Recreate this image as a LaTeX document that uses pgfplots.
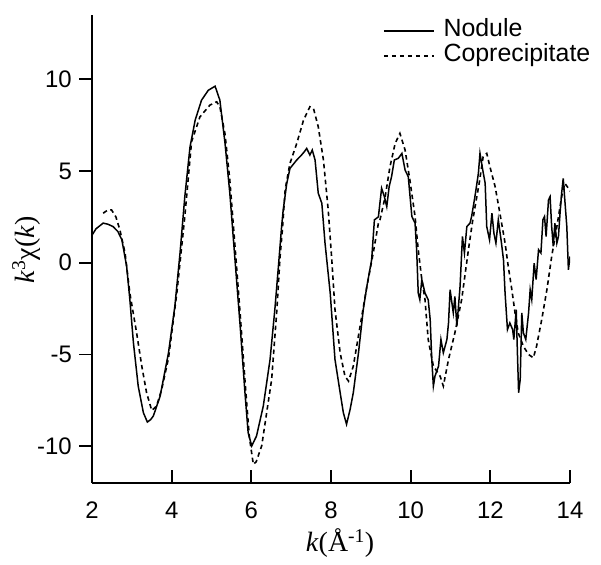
\documentclass[border=0pt]{standalone}
\usepackage{fontspec}
\setmainfont{Liberation Sans}
\newfontfamily\serif{Liberation Serif}
\usepackage{pgfplots}
\pgfplotsset{compat=1.18}
\begin{document}
\begin{tikzpicture}
\useasboundingbox (-92bp,-82bp) rectangle (509bp,483bp);
% tick marks of the axis below (axis box spans 0..478bp x 0..468bp; x 2..14, y -12..13.5)
\foreach \xt in {79.667,159.333,239,318.667,398.333,478}
  \draw[black, line width=1.8bp] (\xt bp,0bp) -- (\xt bp,12.5bp);
\foreach \yt in {36.706,128.471,220.235,312,403.765}
  \draw[black, line width=1.8bp] (0bp,\yt bp) -- (-12.5bp,\yt bp);
\begin{axis}[
  at={(0,0)}, anchor=south west,
  scale only axis, width=478bp, height=468bp,
  xmin=2, xmax=14, ymin=-12, ymax=13.5,
  axis x line*=bottom, axis y line*=left,
  axis line style={line width=1.8bp},
  xtick={2,4,...,14}, ytick={-10,-5,0,5,10},
  major tick length=0pt,
  /pgf/number format/assume math mode=true,
  tick label style={font=\fontsize{24}{28}\selectfont},
  yticklabel style={inner sep=0pt, xshift=-20bp},
  xticklabel style={inner sep=0pt, yshift=-19bp},
  xlabel={\serif\fontsize{28}{32}\selectfont\textit{k}(Å\textsuperscript{-1})},
  xlabel style={at={(axis description cs:0.519,-0.128)}, anchor=center, inner sep=0pt},
  ylabel={\serif\fontsize{28}{32}\selectfont\textit{k}\textsuperscript{3}χ(\textit{k})},
  ylabel style={at={(axis description cs:-0.138,0.498)}, anchor=center, inner sep=0pt},
  legend style={draw=none, fill=none, at={(axis description cs:1.045,0.993)}, anchor=north east,
    font=\fontsize{25}{29}\selectfont, inner sep=0pt, row sep=0bp,
    nodes={inner sep=1bp, text height=17bp, text depth=6bp}},
  legend cell align=left,
  legend image code/.code={\draw[#1] (0bp,0bp) -- (50bp,0bp); \path (58bp,0bp);},
]
\addplot[black, line width=1.5bp] coordinates {
(2.00,1.50) (2.10,1.85) (2.28,2.16) (2.40,2.10) (2.53,1.97) (2.65,1.70) (2.75,1.25)
(2.87,-0.20) (2.95,-2.00) (3.04,-4.36) (3.16,-6.72) (3.29,-8.17) (3.39,-8.68) (3.47,-8.55)
(3.54,-8.35) (3.71,-7.27) (3.92,-4.91) (4.08,-2.37) (4.21,0.53) (4.33,3.60) (4.46,6.30)
(4.59,7.77) (4.75,8.86) (4.92,9.40) (5.09,9.62) (5.21,8.86) (5.34,6.50) (5.46,3.79)
(5.59,0.16) (5.72,-3.46) (5.84,-7.08) (5.92,-9.26) (6.01,-9.98) (6.13,-9.44) (6.30,-7.81)
(6.47,-5.27) (6.59,-2.55) (6.68,-0.20) (6.76,1.97) (6.80,2.88) (6.89,4.33) (6.97,5.14)
(7.14,5.60) (7.26,5.87) (7.33,6.05) (7.39,6.23) (7.47,5.87) (7.53,6.14) (7.60,5.60)
(7.68,3.79) (7.77,3.24) (7.85,1.07) (7.98,-1.65) (8.10,-5.27) (8.23,-7.08) (8.31,-8.17)
(8.39,-8.80) (8.48,-7.99) (8.56,-7.08) (8.69,-4.91) (8.81,-2.55) (8.90,-1.29) (9.02,0.16)
(9.09,2.34) (9.19,2.50) (9.27,4.06) (9.34,3.60) (9.40,3.06) (9.46,4.15) (9.52,4.69)
(9.59,5.60) (9.69,5.69) (9.78,5.96) (9.86,5.05) (9.94,4.69) (10.03,2.52) (10.11,2.16)
(10.15,0.71) (10.19,-1.65) (10.23,-2.01) (10.28,-0.92) (10.36,-1.65) (10.44,-2.01)
(10.49,-3.10) (10.53,-5.27) (10.57,-6.72) (10.61,-6.18) (10.70,-5.63) (10.76,-4.18)
(10.82,-4.91) (10.91,-4.18) (10.95,-3.28) (10.99,-1.47) (11.07,-2.73) (11.11,-1.83)
(11.16,-3.46) (11.24,-1.29) (11.30,1.43) (11.35,0.53) (11.41,1.97) (11.49,2.16)
(11.53,2.52) (11.62,3.70) (11.70,4.87) (11.74,5.96) (11.81,5.05) (11.87,4.33) (11.91,1.97)
(11.98,1.25) (12.04,2.70) (12.09,1.61) (12.14,1.07) (12.20,2.34) (12.28,1.07) (12.33,0.16)
(12.37,-1.65) (12.43,-3.64) (12.49,-3.28) (12.56,-3.64) (12.59,-4.18) (12.65,-2.55)
(12.68,-4.91) (12.71,-7.08) (12.75,-6.36) (12.79,-2.73) (12.83,-3.82) (12.89,-4.18)
(12.96,-2.73) (13.00,-1.47) (13.04,-2.01) (13.10,-0.02) (13.15,-0.92) (13.21,0.71)
(13.27,0.53) (13.32,2.34) (13.36,2.52) (13.40,1.43) (13.46,3.42) (13.50,3.60) (13.54,1.97)
(13.58,0.89) (13.62,2.16) (13.67,1.07) (13.71,1.43) (13.75,2.70) (13.79,3.79) (13.83,4.60)
(13.87,3.42) (13.92,1.97) (13.96,-0.38) (14.00,0.34)
};
\addlegendentry{Nodule}
\addplot[black, line width=1.6bp, dash pattern=on 4.5bp off 3.5bp] coordinates {
(2.28,2.70) (2.38,2.85) (2.49,2.88) (2.60,2.50) (2.70,1.79) (2.83,0.53) (2.95,-1.65)
(3.12,-3.82) (3.25,-5.63) (3.37,-7.08) (3.50,-8.05) (3.62,-7.81) (3.75,-6.90) (3.92,-5.20)
(4.13,-1.65) (4.33,2.52) (4.42,4.69) (4.50,6.60) (4.71,7.95) (4.96,8.59) (5.13,8.77)
(5.21,8.50) (5.34,7.00) (5.46,4.50) (5.59,0.90) (5.72,-2.80) (5.84,-6.40) (5.95,-9.50)
(6.05,-10.98) (6.12,-10.85) (6.26,-9.98) (6.51,-6.36) (6.64,-2.60) (6.72,0.30) (6.78,1.80)
(6.85,4.00) (6.97,5.42) (7.14,6.50) (7.31,7.77) (7.47,8.50) (7.56,8.41) (7.68,7.41)
(7.81,5.60) (7.93,2.88) (8.02,0.16) (8.10,-2.55) (8.23,-4.91) (8.35,-6.18) (8.44,-6.45)
(8.56,-5.63) (8.73,-3.46) (8.90,-1.30) (9.06,0.53) (9.19,2.16) (9.23,2.34) (9.36,3.60)
(9.48,5.23) (9.61,6.50) (9.73,7.05) (9.86,6.14) (9.98,4.51) (10.11,2.52) (10.19,0.71)
(10.28,-0.92) (10.36,-2.01) (10.44,-4.18) (10.57,-5.63) (10.74,-6.18) (10.82,-6.72)
(10.95,-5.27) (11.11,-3.82) (11.28,-2.01) (11.45,0.71) (11.55,2.20) (11.62,3.10)
(11.72,4.33) (11.82,5.78) (11.91,5.96) (11.99,5.23) (12.12,4.15) (12.24,2.70) (12.37,1.07)
(12.45,-0.20) (12.54,-1.47) (12.62,-2.73) (12.70,-3.82) (12.83,-4.55) (12.96,-5.00)
(13.08,-5.18) (13.16,-4.55) (13.29,-3.10) (13.42,-1.47) (13.54,0.34) (13.67,1.97)
(13.79,3.60) (13.87,4.33) (13.96,4.06) (14.00,3.90)
};
\addlegendentry{Coprecipitate}
\end{axis}
\end{tikzpicture}
\end{document}
